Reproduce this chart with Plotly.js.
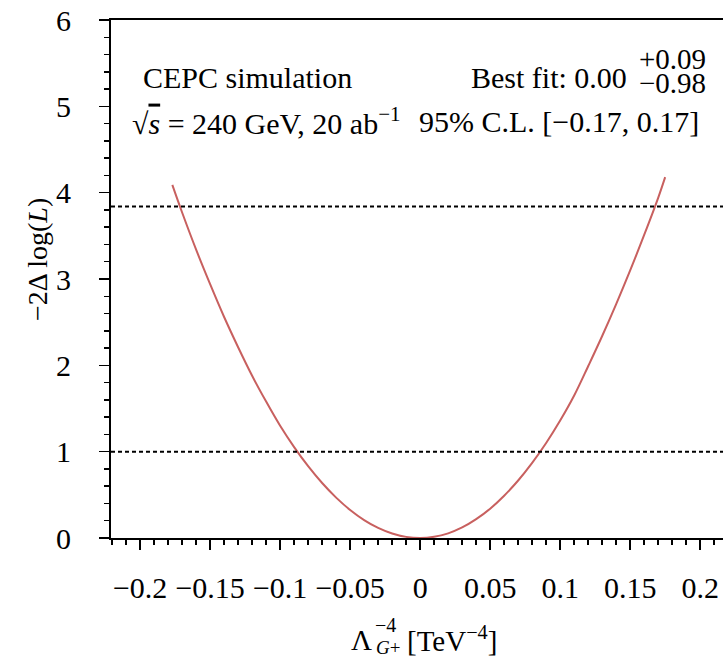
<!DOCTYPE html>
<html>
<head>
<meta charset="utf-8">
<script src="https://cdn.plot.ly/plotly-3.0.1.min.js"></script>
<style>html,body{margin:0;padding:0;background:#fff;overflow:hidden}#chart{width:723px;height:660px}</style>
</head>
<body>
<div id="chart"></div>
<script>
// ---- data ----
const lambdaValues = [-0.177, -0.17, -0.16, -0.15, -0.14, -0.13, -0.12, -0.11, -0.10, -0.09, -0.08, -0.07, -0.06, -0.05, -0.04, -0.03, -0.02, -0.01, 0.0, 0.01, 0.02, 0.03, 0.04, 0.05, 0.06, 0.07, 0.08, 0.09, 0.10, 0.11, 0.12, 0.13, 0.14, 0.15, 0.16, 0.17, 0.175];
const nllValues = [4.09, 3.77, 3.34, 2.94, 2.56, 2.21, 1.88, 1.58, 1.30, 1.053, 0.832, 0.637, 0.468, 0.325, 0.208, 0.117, 0.052, 0.013, 0.0, 0.014, 0.054, 0.122, 0.218, 0.34, 0.49, 0.666, 0.87, 1.10, 1.36, 1.65, 1.99, 2.34, 2.71, 3.10, 3.51, 3.94, 4.18];
const thresholdLevels = [1, 3.84];
const xTickVals = [-0.2, -0.15, -0.1, -0.05, 0, 0.05, 0.1, 0.15, 0.2];
const xTickText = ["\u22120.2", "\u22120.15", "\u22120.1", "\u22120.05", "0", "0.05", "0.1", "0.15", "0.2"];
const yTickVals = [0, 1, 2, 3, 4, 5, 6];
const yTickText = ["0", "1", "2", "3", "4", "5", "6"];
const labelExperiment = "CEPC simulation";
const labelBestFit = "Best fit: 0.00";
const labelErrUp = "+0.09";
const labelErrDown = "\u22120.98";
const labelEnergy = "\u221A<span style=\"text-decoration:overline\"><i>s</i></span> = 240 GeV, 20 ab<sup>\u22121</sup>";
const labelCL = "95% C.L. [\u22120.17, 0.17]";
const yTitleText = "\u22122\u0394 log(<i>L</i>)";
const xTitleMain = "\u039B";
const xTitleSup = "\u22124";
const xTitleSub = "<i>G</i>+";
const xTitleUnit = "[TeV<sup>\u22124</sup>]";

// ---- drawing ----
const serif = "Liberation Serif, Times New Roman, serif";
const L = 111, T = 20, W = 612, H = 518; // plot area in px
const px = (x) => (x - L) / W;             // page px -> paper x
const py = (y) => (T + H - y) / H;         // page px -> paper y

const traces = [{
  x: lambdaValues, y: nllValues, type: "scatter", mode: "lines",
  line: {color: "#c8605f", width: 2, shape: "spline", smoothing: 1},
  hoverinfo: "skip", showlegend: false
}];

const shapes = thresholdLevels.map(v => ({
  type: "line", xref: "paper", x0: 0, x1: 1, yref: "y", y0: v, y1: v,
  line: {color: "#000", width: 2, dash: "4px,3px"}
}));

const ann = (text, x, y, xanchor, size, extra) => Object.assign({
  text, xref: "paper", yref: "paper", x: px(x), y: py(y), xanchor, yanchor: "middle",
  showarrow: false, font: {family: serif, size, color: "#000"}
}, extra || {});

const annotations = [
  ann(labelExperiment, 141, 77, "left", 30),
  ann(labelBestFit, 629, 77, "right", 30),
  ann(labelErrUp, 708, 59, "right", 29),
  ann(labelErrDown, 708, 83, "right", 29),
  ann(labelEnergy, 130, 121, "left", 30),
  ann(labelCL, 701, 121, "right", 30),
  ann(yTitleText, 37, 260, "center", 28, {textangle: -90}),
  ann(xTitleMain, 361, 640, "center", 29),
  ann(xTitleSup, 373, 625, "left", 20),
  ann(xTitleSub, 374, 647, "left", 19),
  ann(xTitleUnit, 405, 639, "left", 29)
];

const layout = {
  width: 723, height: 660,
  margin: {l: L, r: 0, t: T, b: 660 - T - H, pad: 0},
  paper_bgcolor: "#fff", plot_bgcolor: "#fff",
  font: {family: serif, size: 30, color: "#000"},
  showlegend: false,
  xaxis: {
    range: [-0.2208, 0.2163], showgrid: false, zeroline: false,
    showline: true, linecolor: "#000", linewidth: 2, mirror: true,
    ticks: "outside", ticklen: 10, tickwidth: 1.5, tickcolor: "#000",
    tickmode: "array", tickvals: xTickVals, ticktext: xTickText,
    tickfont: {family: serif, size: 30, color: "#000"}, ticklabelstandoff: 12,
    minor: {dtick: 0.01, tick0: 0, ticks: "outside", ticklen: 5, tickwidth: 1.5, tickcolor: "#000", showgrid: false}
  },
  yaxis: {
    range: [0, 6], showgrid: false, zeroline: false,
    showline: true, linecolor: "#000", linewidth: 2, mirror: false,
    ticks: "outside", ticklen: 10, tickwidth: 1.5, tickcolor: "#000",
    tickmode: "array", tickvals: yTickVals, ticktext: yTickText,
    tickfont: {family: serif, size: 30, color: "#000"}, ticklabelstandoff: 22,
    minor: {dtick: 0.2, tick0: 0, ticks: "outside", ticklen: 5, tickwidth: 1.5, tickcolor: "#000", showgrid: false}
  },
  shapes, annotations
};

Plotly.newPlot("chart", traces, layout, {staticPlot: true, displayModeBar: false});
</script>
</body>
</html>
